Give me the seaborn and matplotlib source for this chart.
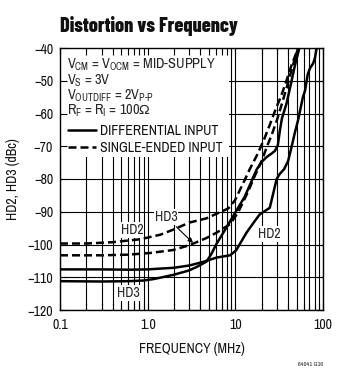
import numpy as np
import pandas as pd
import matplotlib
matplotlib.use("Agg")
import matplotlib.pyplot as plt
import seaborn as sns
from matplotlib.patches import Rectangle
from matplotlib.lines import Line2D
from matplotlib import font_manager as fm

# ---------------- data ----------------
hd2_diff_f = [0.1, 0.3, 0.6, 1.0, 2.0, 3.0, 4.3, 6.1, 8.7, 10.2, 13.4, 16.7, 19.0,
              24.7, 27.0, 29.6, 32.0, 36.0, 40.0, 44.0, 47.6, 52.0, 59.0, 62.4,
              67.0, 71.0, 77.5, 81.0, 86.0]
hd2_diff_db = [-107.6, -107.6, -107.7, -107.6, -107.1, -106.4, -105.3, -104.0,
               -103.3, -101.8, -96.4, -92.8, -90.8, -88.8, -84.5, -80.0, -78.5,
               -77.0, -74.5, -70.0, -66.0, -62.0, -55.0, -53.0, -48.0, -46.2,
               -44.6, -43.0, -39.0]

hd3_diff_f = [0.1, 0.3, 0.6, 0.9, 1.2, 1.94, 2.9, 3.6, 4.7, 5.3, 6.1, 7.6, 9.9,
              12.8, 17.5, 19.9, 23.0, 26.0, 28.3, 30.5, 32.3, 34.0, 38.5, 43.0,
              47.6, 52.0, 57.0]
hd3_diff_db = [-111.2, -111.3, -111.2, -111.0, -110.5, -109.3, -108.0, -106.9,
               -105.2, -103.0, -99.8, -95.6, -90.4, -85.4, -77.1, -74.8, -73.2,
               -72.2, -71.4, -69.8, -65.0, -61.5, -56.8, -51.0, -45.6, -41.5, -37.4]

hd2_se_f = [0.1, 0.2, 0.4, 0.82, 1.4, 1.94, 3.0, 4.7, 6.0, 8.3, 9.9, 12.8, 14.6,
            18.0, 21.5, 24.7, 29.0, 33.5, 38.0, 43.8, 50.0, 55.0]
hd2_se_db = [-99.7, -99.7, -99.3, -98.4, -97.0, -95.5, -93.3, -92.0, -90.7,
             -89.0, -86.5, -80.3, -77.0, -72.3, -67.6, -63.5, -58.5, -54.5,
             -50.2, -45.2, -41.3, -38.5]

hd3_se_f = [0.1, 0.3, 0.6, 1.06, 1.94, 3.0, 3.6, 4.7, 6.1, 8.7, 10.7, 13.9, 16.7,
            19.9, 23.0, 26.0, 30.0, 34.0, 38.6, 44.0, 50.0, 56.0]
hd3_se_db = [-103.3, -103.3, -103.1, -102.6, -101.7, -100.2, -99.3, -98.0,
             -96.4, -93.8, -90.3, -84.0, -79.0, -74.6, -70.0, -66.5, -61.8,
             -57.0, -52.0, -46.5, -41.5, -37.5]

input_labels = ["DIFFERENTIAL INPUT", "SINGLE-ENDED INPUT"]
x_ticks = [0.1, 1, 10, 100]
x_tick_labels = ["0.1", "1.0", "10", "100"]
y_ticks = [-120, -110, -100, -90, -80, -70, -60, -50, -40]
y_tick_labels = ["\u2212" + str(abs(v)) for v in y_ticks]

# ---------------- dataframe ----------------
frames = []
for name, f, d, inp in [("HD2 diff", hd2_diff_f, hd2_diff_db, input_labels[0]),
                        ("HD3 diff", hd3_diff_f, hd3_diff_db, input_labels[0]),
                        ("HD2 se", hd2_se_f, hd2_se_db, input_labels[1]),
                        ("HD3 se", hd3_se_f, hd3_se_db, input_labels[1])]:
    frames.append(pd.DataFrame({"freq": f, "dbc": d, "curve": name, "input": inp}))
df = pd.concat(frames, ignore_index=True)

# ---------------- fonts ----------------
available = {f.name for f in fm.fontManager.ttflist}


def pick(cands, default="DejaVu Sans"):
    for c in cands:
        if c in available:
            return c
    return default


body_font = pick(["Archivo Narrow", "Barlow Semi Condensed", "Encode Sans Condensed",
                  "Liberation Sans Narrow", "Liberation Sans"])
title_font = pick(["Barlow Condensed", "Archivo Narrow", "Encode Sans Condensed",
                   "Liberation Sans Narrow", "Liberation Sans"])

sns.set_theme(style="white")
plt.rcParams["font.family"] = [body_font, "DejaVu Sans"]
plt.rcParams["mathtext.fontset"] = "custom"
plt.rcParams["mathtext.rm"] = body_font
plt.rcParams["mathtext.it"] = body_font
plt.rcParams["mathtext.fallback"] = "stixsans"

FS = 10

fig = plt.figure(figsize=(3.4, 3.74), dpi=100)
pos = [60 / 340, 1 - 310 / 374, 263 / 340, 262 / 374]
ax = fig.add_axes(pos)
ax.set_facecolor("white")

sns.lineplot(data=df, x="freq", y="dbc", style="input", units="curve",
             estimator=None, color="black", linewidth=1.8,
             dashes={input_labels[0]: "", input_labels[1]: (3.2, 1.6)},
             legend=False, ax=ax, zorder=3)

ax.set_xscale("log")
ax.set_xlim(0.1, 100)
ax.set_ylim(-120, -40)
ax.set_xticks(x_ticks)
ax.set_xticklabels(x_tick_labels)
ax.set_yticks(y_ticks)
ax.set_yticklabels(y_tick_labels)
ax.set_axisbelow(True)
ax.grid(which="major", axis="both", color="black", linewidth=0.8)
ax.grid(which="minor", axis="x", color="black", linewidth=0.8)
ax.tick_params(which="both", length=0, labelsize=FS, colors="#111111")
ax.tick_params(axis="x", pad=6)
ax.tick_params(axis="y", pad=5)
ax.set_xlabel("FREQUENCY (MHz)", fontsize=FS, color="#111111", labelpad=7)
ax.set_ylabel("HD2, HD3 (dBc)", fontsize=FS, color="#111111", labelpad=5)
for s in ax.spines.values():
    s.set_visible(False)

# white box behind the conditions text
ax.add_patch(Rectangle((0, 0.584), 0.643, 0.416, transform=ax.transAxes,
                       facecolor="white", edgecolor="none", zorder=1))

tx = 0.027
ax.text(tx, 0.920, r"$\mathregular{V_{CM}}$ = $\mathregular{V_{OCM}}$ = MID-SUPPLY",
        transform=ax.transAxes, fontsize=FS + 0.3, va="baseline", ha="left", zorder=4)
ax.text(tx, 0.859, r"$\mathregular{V_{S}}$ = 3V",
        transform=ax.transAxes, fontsize=FS + 0.3, va="baseline", ha="left", zorder=4)
ax.text(tx, 0.802, r"$\mathregular{V_{OUTDIFF}}$ = 2$\mathregular{V_{P\text{-}P}}$",
        transform=ax.transAxes, fontsize=FS + 0.3, va="baseline", ha="left", zorder=4)
ax.text(tx, 0.744, r"$\mathregular{R_{F}}$ = $\mathregular{R_{I}}$ = 100$\mathregular{\Omega}$",
        transform=ax.transAxes, fontsize=FS + 0.3, va="baseline", ha="left", zorder=4)

handles = [Line2D([], [], color="black", lw=1.8, linestyle="-"),
           Line2D([], [], color="black", lw=1.8, dashes=(3.2, 1.6))]
leg = ax.legend(handles, input_labels, loc="upper left",
                bbox_to_anchor=(0.03, 0.71), frameon=False, fontsize=FS,
                handlelength=2.0, handletextpad=0.3, labelspacing=0.2,
                borderpad=0, borderaxespad=0)
for t in leg.get_texts():
    t.set_color("#111111")

# curve labels
bb = dict(facecolor="white", edgecolor="none", pad=0.6)
ax.text(0.662, -95.6, "HD2", fontsize=FS, ha="center", va="center", bbox=bb, zorder=1.5)
ax.text(24.2, -96.8, "HD2", fontsize=FS, ha="center", va="center", bbox=bb, zorder=1.5)
ax.text(0.597, -114.8, "HD3", fontsize=FS, ha="center", va="center", bbox=bb, zorder=1.5)
ax.annotate("HD3", xy=(3.29, -99.5), xytext=(1.62, -91.6), fontsize=FS,
            ha="center", va="center", bbox=bb, zorder=1.5,
            arrowprops=dict(arrowstyle="-|>", color="black", lw=0.8,
                            mutation_scale=7, shrinkA=2, shrinkB=0))

# overlay axes for frame + inward ticks
ax2 = fig.add_axes(pos, facecolor="none")
ax2.set_xscale("log")
ax2.set_xlim(0.1, 100)
ax2.set_ylim(-120, -40)
ax2.set_yticks(y_ticks)
ax2.grid(False)
ax2.tick_params(which="both", direction="in", top=True, right=True,
                bottom=True, left=True, labelbottom=False, labelleft=False,
                color="black", width=0.8)
ax2.tick_params(which="major", length=5)
ax2.tick_params(which="minor", length=5)
for s in ax2.spines.values():
    s.set_visible(True)
    s.set_color("black")
    s.set_linewidth(1.0)

fig.text(60 / 340, 1 - 32 / 374, "Distortion vs Frequency", fontsize=14.5,
         fontweight="heavy", family=[title_font, "DejaVu Sans"],
         ha="left", va="baseline", color="#111111")
fig.text(323 / 340, 1 - 366 / 374, "64041 G16", fontsize=4.5, fontweight="bold",
         ha="right", va="baseline", color="#222222")

fig.savefig("out.png", dpi=100)
